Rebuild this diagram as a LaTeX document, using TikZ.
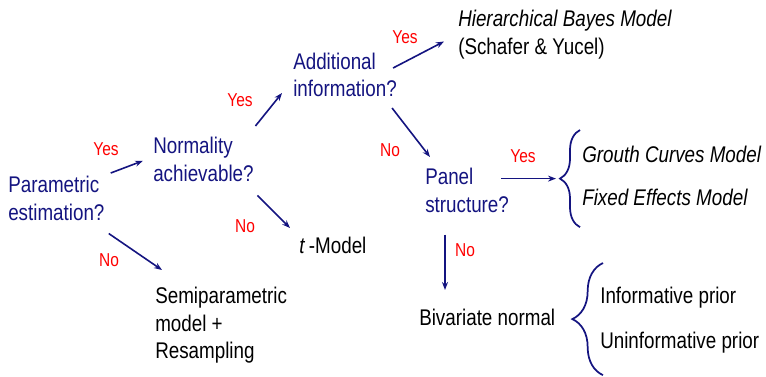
\documentclass[tikz,border=0pt]{standalone}
\usepackage{fontspec}
\setmainfont{Liberation Sans}[FakeStretch=0.83]
\usetikzlibrary{arrows.meta,decorations.pathreplacing,calc}

\definecolor{qblue}{RGB}{20,20,128}

\begin{document}
\begin{tikzpicture}[x=0.75pt,y=-0.75pt,
    question/.style={anchor=north west,inner sep=0pt,align=left,text=qblue,font=\fontsize{17}{20.5}\selectfont},
    result/.style={anchor=north west,inner sep=0pt,align=left,font=\fontsize{17}{20.5}\selectfont},
    answer/.style={text=red,inner sep=0pt,font=\fontsize{14}{16}\selectfont},
    branch/.style={draw=qblue,line width=1.2pt,-{Stealth[length=6pt,width=4.5pt]}},
    bracket/.style={draw=qblue,line width=1.3pt,decorate,decoration={brace,amplitude=#1}}]
        \useasboundingbox (0,0) rectangle (766,376);
        % questions
        \node[question] (param) at (8,176) {Parametric\\estimation?};
        \node[question] (normal) at (153,137) {Normality\\achievable?};
        \node[question] (addinfo) at (293,52.5) {Additional\\information?};
        \node[question] (panel) at (425,168) {Panel\\structure?};
        % models
        \node[result] (hier) at (458,10) {\itshape Hierarchical Bayes Model\\(Schafer \& Yucel)};
        \node[result] (tmodel) at (299,237) {\textit{t}\,-Model};
        \node[result] (semi) at (155,287) {Semiparametric\\model +\\Resampling};
        \node[result] (growth) at (582,146) {\itshape Grouth Curves Model\\[11.75pt]\itshape Fixed Effects Model};
        \node[result] (bivar) at (419,309) {Bivariate normal};
        \node[result] (prior) at (600,286.5) {Informative prior\\[13.25pt]Uninformative prior};
        % braces
        \coordinate (b1top) at ([shift={(-2,-16)}]growth.north west);
        \coordinate (b1bot) at ([shift={(-2,21)}]growth.south west);
        \coordinate (tip1) at ($(b1top)!0.5!(b1bot)+(-20,0)$);
        \draw[bracket=15pt] (b1bot) -- (b1top);
        \coordinate (b2top) at ([shift={(3,-23.5)}]prior.north west);
        \coordinate (b2bot) at ([shift={(3,22)}]prior.south west);
        \draw[bracket=23pt] (b2bot) -- (b2top);
        % branches
        \draw[branch] ([shift={(6,-3)}]param.north east) -- ([shift={(-10,1.5)}]normal.west);
        \draw[branch] ([shift={(4,13)}]param.south east) -- ([shift={(7,-17)}]semi.north west);
        \draw[branch] ([shift={(1.5,-11)}]normal.north east) -- ([shift={(-11,-4)}]addinfo.south west);
        \draw[branch] ([shift={(3.5,14)}]normal.south east) -- ([shift={(-9,-9)}]tmodel.north west);
        \draw[branch] ([shift={(-4,15.5)}]addinfo.north east) -- ([shift={(-14,7)}]hier.west);
        \draw[branch] ([shift={(-5,11)}]addinfo.south east) -- ([shift={(5,-11)}]panel.north west);
        \draw[branch,shorten >=3pt] ([xshift=-6pt]panel.north east |- tip1) -- (tip1);
        \draw[branch] ([shift={(20,22)}]panel.south west) -- ([shift={(26,-19)}]bivar.north west);
        % answers
        \node[answer] (yes1) at (106,149) {Yes};
        \node[answer] (no1) at (109,260) {No};
        \node[answer] (yes2) at (240,100) {Yes};
        \node[answer] (no2) at (245,226) {No};
        \node[answer] (yes3) at (405,37) {Yes};
        \node[answer] (no3) at (390,150) {No};
        \node[answer] (yes4) at (523,156) {Yes};
        \node[answer] (no4) at (465,250) {No};
\end{tikzpicture}
\end{document}
